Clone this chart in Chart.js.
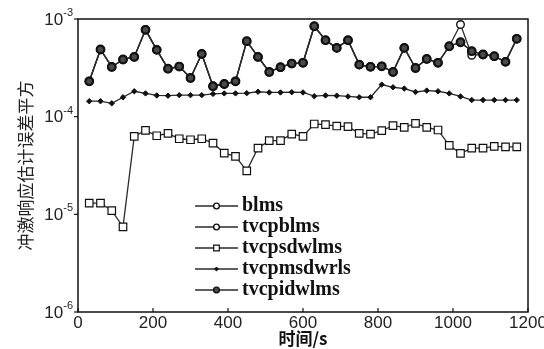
<!DOCTYPE html>
<html><head><meta charset="utf-8">
<script src="https://cdn.jsdelivr.net/npm/chart.js@4/dist/chart.umd.min.js"></script>
<style>html,body{margin:0;padding:0;background:#fff}#wrap{width:544px;height:349px;position:relative}</style>
</head><body><div id="wrap"><canvas id="c"></canvas></div>
<script>
const times = [30,60,90,120,150,180,210,240,270,300,330,360,390,420,450,480,510,540,570,600,630,660,690,720,750,780,810,840,870,900,930,960,990,1020,1050,1080,1110,1140,1170];
const blms = [2.30e-4,4.87e-4,3.23e-4,3.85e-4,4.09e-4,7.75e-4,4.83e-4,3.10e-4,3.26e-4,2.49e-4,4.39e-4,2.05e-4,2.16e-4,2.30e-4,5.93e-4,4.09e-4,2.87e-4,3.21e-4,3.50e-4,3.56e-4,8.44e-4,6.07e-4,5.06e-4,6.07e-4,3.41e-4,3.24e-4,3.28e-4,2.87e-4,5.06e-4,3.15e-4,3.90e-4,3.56e-4,5.26e-4,8.78e-4,4.26e-4,4.33e-4,4.16e-4,3.64e-4,6.27e-4];
const tvcpblms = [2.30e-4,4.87e-4,3.23e-4,3.85e-4,4.09e-4,7.75e-4,4.83e-4,3.10e-4,3.26e-4,2.49e-4,4.39e-4,2.05e-4,2.16e-4,2.30e-4,5.93e-4,4.09e-4,2.87e-4,3.21e-4,3.50e-4,3.56e-4,8.44e-4,6.07e-4,5.06e-4,6.07e-4,3.41e-4,3.24e-4,3.28e-4,2.87e-4,5.06e-4,3.15e-4,3.90e-4,3.56e-4,5.26e-4,5.78e-4,4.68e-4,4.33e-4,4.16e-4,3.64e-4,6.27e-4];
const tvcpsdwlms = [1.30e-5,1.30e-5,1.09e-5,7.45e-6,6.28e-5,7.24e-5,6.38e-5,6.74e-5,5.94e-5,5.80e-5,5.94e-5,5.37e-5,4.24e-5,3.92e-5,2.79e-5,4.77e-5,5.68e-5,5.68e-5,6.64e-5,6.28e-5,8.41e-5,8.30e-5,8.02e-5,7.90e-5,6.74e-5,6.64e-5,7.18e-5,8.09e-5,7.76e-5,8.53e-5,7.76e-5,7.30e-5,5.08e-5,4.20e-5,4.77e-5,4.77e-5,4.97e-5,4.90e-5,4.90e-5];
const tvcpmsdwrls = [1.44e-4,1.44e-4,1.37e-4,1.58e-4,1.82e-4,1.73e-4,1.65e-4,1.64e-4,1.66e-4,1.66e-4,1.66e-4,1.71e-4,1.73e-4,1.73e-4,1.74e-4,1.80e-4,1.77e-4,1.77e-4,1.78e-4,1.77e-4,1.62e-4,1.65e-4,1.64e-4,1.61e-4,1.58e-4,1.58e-4,2.13e-4,2.00e-4,1.94e-4,1.79e-4,1.85e-4,1.82e-4,1.73e-4,1.61e-4,1.48e-4,1.48e-4,1.48e-4,1.48e-4,1.48e-4];
const tvcpidwlms = [2.30e-4,4.87e-4,3.23e-4,3.85e-4,4.09e-4,7.75e-4,4.83e-4,3.10e-4,3.26e-4,2.49e-4,4.39e-4,2.05e-4,2.16e-4,2.30e-4,5.93e-4,4.09e-4,2.87e-4,3.21e-4,3.50e-4,3.56e-4,8.44e-4,6.07e-4,5.06e-4,6.07e-4,3.41e-4,3.24e-4,3.28e-4,2.87e-4,5.06e-4,3.15e-4,3.90e-4,3.56e-4,5.26e-4,5.78e-4,4.68e-4,4.33e-4,4.16e-4,3.64e-4,6.27e-4];
const seriesNames = ['blms','tvcpblms','tvcpsdwlms','tvcpmsdwrls','tvcpidwlms'];
const xTicks = [0,200,400,600,800,1000,1200];
const yTicks = [1e-6,1e-5,1e-4,1e-3];
const yTickBase = '10';
const yTickExps = ['-6','-5','-4','-3'];
const xTitle = '时间/s';
const yTitle = '冲激响应估计误差平方';

const pts = v => times.map((t,i)=>({x:t,y:v[i]}));
const LINE = '#2a2a2a';
const base = {borderColor:LINE,borderWidth:1.3,pointBorderColor:'#111',tension:0};
const datasets = [
  Object.assign({},base,{label:seriesNames[0],data:pts(blms),pointStyle:'circle',pointRadius:3.8,pointBackgroundColor:'#fff',pointBorderWidth:1.4,order:2}),
  Object.assign({},base,{label:seriesNames[1],data:pts(tvcpblms),pointStyle:'circle',pointRadius:3.8,pointBackgroundColor:'#fff',pointBorderWidth:1.4,order:3}),
  Object.assign({},base,{label:seriesNames[2],data:pts(tvcpsdwlms),pointStyle:'rect',pointRadius:5.3,pointBackgroundColor:'#fff',pointBorderWidth:1.2,order:1}),
  Object.assign({},base,{label:seriesNames[3],data:pts(tvcpmsdwrls),pointStyle:'rectRot',pointRadius:2.7,pointBackgroundColor:'#111',pointBorderWidth:1,order:1}),
  Object.assign({},base,{label:seriesNames[4],data:pts(tvcpidwlms),pointStyle:'circle',pointRadius:3.8,pointBackgroundColor:'#4a4a4a',pointBorderWidth:2.2,order:0})
];

const decor = {
  id:'decor',
  afterDraw(chart){
    const {ctx, chartArea:a, scales:{x,y}} = chart;
    ctx.save();
    ctx.strokeStyle='#111'; ctx.lineWidth=1.5;
    ctx.strokeRect(a.left, a.top, a.right-a.left, a.bottom-a.top);
    ctx.lineWidth=1.2;
    xTicks.forEach(v=>{const px=x.getPixelForValue(v); ctx.beginPath(); ctx.moveTo(px,a.bottom); ctx.lineTo(px,a.bottom-4); ctx.stroke();});
    yTicks.forEach((v,i)=>{
      const py=y.getPixelForValue(v);
      ctx.beginPath(); ctx.moveTo(a.left,py); ctx.lineTo(a.left-4,py); ctx.stroke();
      ctx.fillStyle='#222'; ctx.textBaseline='middle'; ctx.textAlign='right';
      ctx.font='11px "Liberation Sans"';
      const sw=ctx.measureText(yTickExps[i]).width;
      ctx.fillText(yTickExps[i], a.left-5, py-6);
      ctx.font='17px "Liberation Sans"';
      ctx.fillText(yTickBase, a.left-5-sw, py+1);
    });
    // legend
    const lx0=a.left+117, lx1=a.left+160, mx=(lx0+lx1)/2, tx=a.left+164;
    chart.data.datasets.forEach((ds,i)=>{
      const ly=a.top+187+i*21;
      ctx.strokeStyle=ds.borderColor; ctx.lineWidth=1.3;
      ctx.beginPath(); ctx.moveTo(lx0,ly); ctx.lineTo(lx1,ly); ctx.stroke();
      ctx.fillStyle=ds.pointBackgroundColor; ctx.strokeStyle=ds.pointBorderColor; ctx.lineWidth=Math.min(ds.pointBorderWidth,1.4);
      Chart.helpers.drawPoint(ctx,{pointStyle:ds.pointStyle,radius:ds.pointRadius*0.75,rotation:0,borderWidth:ctx.lineWidth},mx,ly);
      ctx.fillStyle='#111'; ctx.textAlign='left'; ctx.textBaseline='middle';
      ctx.font='bold 20px "Liberation Serif"';
      ctx.fillText(ds.label, tx, ly);
    });
    ctx.restore();
  }
};

new Chart(document.getElementById('c'),{
  type:'line',
  data:{datasets},
  options:{
    responsive:true, maintainAspectRatio:false, animation:false,
    layout:{padding:{top:19,right:16,left:0,bottom:0}},
    plugins:{legend:{display:false},tooltip:{enabled:false}},
    scales:{
      x:{type:'linear',min:0,max:1200,
        afterBuildTicks:s=>{s.ticks=xTicks.map(v=>({value:v}));},
        afterFit:s=>{s.height=37;s.paddingLeft=0;s.paddingRight=0;},
        ticks:{font:{family:'"Liberation Sans"',size:17},color:'#222',padding:1,maxRotation:0,autoSkip:false,callback:v=>String(v)},
        grid:{display:false,drawTicks:false},border:{display:false},
        title:{display:true,text:xTitle,font:{family:'"Noto Sans CJK SC"',size:17,weight:'bold'},color:'#111',padding:{top:0,bottom:0}}
      },
      y:{type:'logarithmic',min:1e-6,max:1e-3,
        afterBuildTicks:s=>{s.ticks=yTicks.map(v=>({value:v}));},
        afterFit:s=>{s.width=78;s.paddingTop=0;s.paddingBottom=0;},
        ticks:{display:false},
        grid:{display:false,drawTicks:false},border:{display:false},
        title:{display:true,text:yTitle,font:{family:'"Noto Sans CJK SC"',size:17},color:'#222',padding:{top:15,bottom:0}}
      }
    }
  },
  plugins:[decor]
});
</script></body></html>
